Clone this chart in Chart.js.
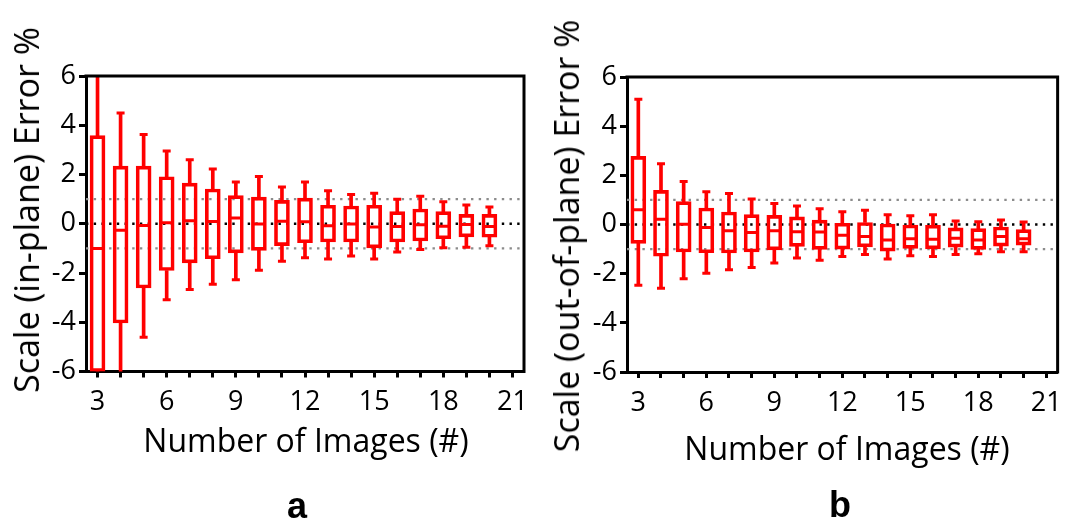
<!DOCTYPE html>
<html><head><meta charset="utf-8">
<script src="https://cdn.jsdelivr.net/npm/chart.js@4.4.1/dist/chart.umd.min.js"></script>
<style>
html,body{margin:0;padding:0;background:#fff;}
body{width:1071px;height:527px;position:relative;overflow:hidden;font-family:'Open Sans',sans-serif;}
canvas{position:absolute;top:0;}
#ca{left:0;} #cb{left:540px;}
.t{position:absolute;white-space:nowrap;font-size:32px;line-height:1;color:#000;transform:translate(-50%,-50%);}
.r{font-size:34px;transform:translate(-50%,-50%) rotate(-90deg);}
.lab{position:absolute;font-family:'Liberation Sans',Arial,sans-serif;font-weight:bold;font-size:36px;line-height:1;color:#000;transform:translate(-50%,-50%);}
</style></head><body>
<canvas id="ca" width="545" height="527"></canvas>
<canvas id="cb" width="531" height="527"></canvas>
<div class="t r" style="left:26px;top:210px">Scale (in-plane) Error %</div>
<div class="t r" style="left:566px;top:236px">Scale (out-of-plane) Error %</div>
<div class="t" style="left:306px;top:440px">Number of Images (#)</div>
<div class="t" style="left:847px;top:448px">Number of Images (#)</div>
<div class="lab" style="left:297px;top:506px">a</div>
<div class="lab" style="left:840px;top:505px">b</div>
<script>
// ---- data ----
const imageCounts = [3,4,5,6,7,8,9,10,11,12,13,14,15,16,17,18,19,20];
const xTickValues = [3,4,5,6,7,8,9,10,11,12,13,14,15,16,17,18,19,20,21];
const xTickLabels = [3,6,9,12,15,18,21];
const yTickValues = [-6,-4,-2,0,2,4,6];
const toleranceLines = [-1,1];
const zeroLine = [0];

const inPlaneMin    = [-8.0,-6.5,-4.61,-3.09,-2.67,-2.46,-2.27,-1.89,-1.52,-1.38,-1.43,-1.31,-1.43,-1.15,-1.05,-0.97,-0.95,-0.89];
const inPlaneQ1     = [-6.0,-4.03,-2.61,-1.90,-1.59,-1.42,-1.18,-1.08,-0.89,-0.77,-0.74,-0.74,-0.98,-0.74,-0.70,-0.61,-0.53,-0.55];
const inPlaneMedian = [-1.00,-0.26,-0.07,0.04,0.12,0.09,0.23,-0.01,0.10,0.08,-0.08,-0.01,-0.13,-0.11,-0.04,-0.10,-0.03,-0.11];
const inPlaneQ3     = [3.58,2.34,2.34,1.91,1.65,1.41,1.14,1.08,0.95,1.04,0.75,0.72,0.75,0.49,0.60,0.49,0.38,0.38];
const inPlaneMax    = [7.0,4.50,3.62,2.95,2.60,2.22,1.70,1.92,1.49,1.70,1.34,1.19,1.24,0.99,1.12,0.89,0.76,0.68];

const outPlaneMin    = [-2.47,-2.59,-2.21,-1.98,-1.84,-1.75,-1.57,-1.36,-1.45,-1.30,-1.22,-1.40,-1.27,-1.30,-1.22,-1.19,-1.11,-1.11];
const outPlaneQ1     = [-0.77,-1.29,-1.12,-1.15,-1.16,-1.12,-1.03,-0.89,-1.01,-1.00,-0.91,-1.08,-0.97,-0.99,-0.92,-1.01,-0.88,-0.84];
const outPlaneMedian = [0.60,0.21,0.01,-0.12,-0.25,-0.33,-0.25,-0.29,-0.31,-0.44,-0.49,-0.63,-0.58,-0.60,-0.56,-0.63,-0.49,-0.58];
const outPlaneQ3     = [2.77,1.39,0.93,0.67,0.51,0.40,0.37,0.31,0.18,0.05,0.08,0.02,-0.02,-0.03,-0.14,-0.17,-0.10,-0.21];
const outPlaneMax    = [5.09,2.47,1.75,1.33,1.26,1.04,0.85,0.75,0.64,0.52,0.58,0.40,0.36,0.40,0.14,0.11,0.18,0.10];

// ---- styling ----
const RED = '#ff0000';
Chart.defaults.font.family = "'Open Sans', sans-serif";
Chart.defaults.color = '#000';

const framePlugin = {
  id: 'frame',
  afterDatasetsDraw(chart) {
    const {ctx, chartArea: {left, right, top, bottom}} = chart;
    ctx.save();
    ctx.strokeStyle = '#000';
    ctx.lineWidth = 3;
    ctx.beginPath();
    ctx.moveTo(left - 1.5, top);
    ctx.lineTo(right, top);
    ctx.lineTo(right, bottom + 1.5);
    ctx.stroke();
    ctx.restore();
  }
};

function hLine(y, color, order) {
  return {
    type: 'line', order,
    data: [{x: 2.5, y}, {x: 21.5, y}],
    borderColor: color, borderWidth: 2.4, borderDash: [2.4, 5.3],
    pointRadius: 0, clip: 0
  };
}

function buildDatasets(mins, q1s, meds, q3s, maxs) {
  const pts = (arr) => imageCounts.map((n, i) => ({x: n, y: arr[i]}));
  const ranges = (lo, hi) => imageCounts.map((n, i) => ({x: n, y: [lo[i], hi[i]]}));
  const cap = (arr, r) => ({
    type: 'scatter', order: 1, data: pts(arr), clip: 0,
    pointStyle: 'line', pointRadius: r, pointHoverRadius: r,
    pointBorderWidth: 3, pointHoverBorderWidth: 3,
    pointBorderColor: RED, pointBackgroundColor: RED, borderColor: RED
  });
  return [
    ...zeroLine.map(v => hLine(v, '#000', 10)),
    ...toleranceLines.map(v => hLine(v, '#8c8c8c', 10)),
    {type: 'bar', order: 2, data: ranges(q3s, maxs), grouped: false, barThickness: 3,
     backgroundColor: RED, borderWidth: 0, clip: 0},
    {type: 'bar', order: 2, data: ranges(mins, q1s), grouped: false, barThickness: 3,
     backgroundColor: RED, borderWidth: 0, clip: 0},
    {type: 'bar', order: 1, data: ranges(q1s, q3s), grouped: false, barThickness: 15,
     backgroundColor: 'rgba(0,0,0,0)', borderColor: RED, borderWidth: 3, borderSkipped: false, clip: 0},
    cap(maxs, 4),
    cap(mins, 4),
    cap(meds, 7)
  ];
}

function makeChart(id, datasets, pad, yWidth) {
  return new Chart(document.getElementById(id), {
    type: 'bar',
    data: {datasets},
    plugins: [framePlugin],
    options: {
      responsive: false, animation: false, events: [],
      layout: {padding: pad},
      plugins: {legend: {display: false}, tooltip: {enabled: false}},
      scales: {
        x: {
          type: 'linear', min: 2.5, max: 21.5, offset: false,
          afterBuildTicks: s => { s.ticks = xTickValues.map(v => ({value: v})); },
          afterFit: s => { s.height = 50; },
          ticks: {autoSkip: false, maxRotation: 0, padding: 9, font: {size: 27},
                  callback: v => xTickLabels.includes(v) ? String(v) : ''},
          grid: {offset: false, drawOnChartArea: false, drawTicks: true, tickLength: 6, tickWidth: 3, tickColor: '#000', color: '#000'},
          border: {display: true, color: '#000', width: 3}
        },
        y: {
          type: 'linear', min: -6, max: 6,
          afterBuildTicks: s => { s.ticks = yTickValues.map(v => ({value: v})); },
          afterFit: s => { s.width = yWidth; },
          ticks: {padding: 3, font: {size: 27}, callback: v => String(v)},
          grid: {drawOnChartArea: false, drawTicks: true, tickLength: 7, tickWidth: 3, tickColor: '#000', color: '#000'},
          border: {display: true, color: '#000', width: 3}
        }
      }
    }
  });
}

makeChart('ca', buildDatasets(inPlaneMin, inPlaneQ1, inPlaneMedian, inPlaneQ3, inPlaneMax),
  {left: 0, top: 76, right: 21, bottom: 105.5}, 86);
makeChart('cb', buildDatasets(outPlaneMin, outPlaneQ1, outPlaneMedian, outPlaneQ3, outPlaneMax),
  {left: 0, top: 77, right: 8, bottom: 105}, 87);
</script>
</body></html>
